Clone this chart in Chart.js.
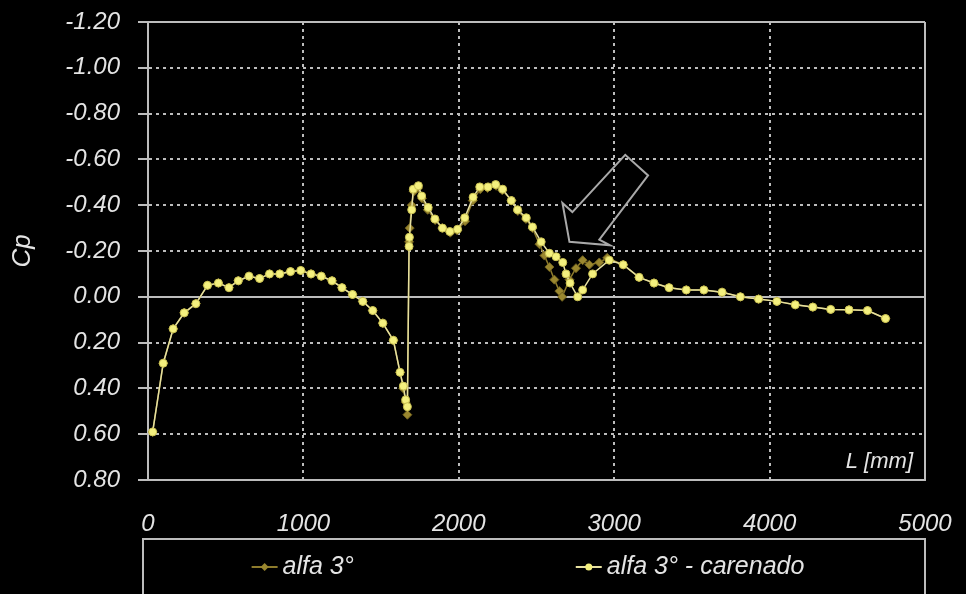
<!DOCTYPE html>
<html>
<head>
<meta charset="utf-8">
<script src="https://cdn.jsdelivr.net/npm/chart.js@4.4.1/dist/chart.umd.min.js"></script>
<style>
  html, body { margin: 0; padding: 0; background: #000; }
  #wrap { position: relative; width: 966px; height: 594px; }
</style>
</head>
<body>
<div id="wrap"><canvas id="cpChart"></canvas></div>
<script>
// --- data (L in mm, Cp) ---
const seriesNames = ['alfa 3°', 'alfa 3° - carenado'];

const L_alfa = [30, 98, 162, 233, 308, 383, 453, 521, 581, 650, 718, 782, 848, 917, 983,
  1049, 1115, 1184, 1248, 1316, 1382, 1446, 1511, 1579, 1622, 1643, 1658, 1669, 1680, 1684,
  1697, 1710, 1738, 1763, 1800, 1848, 1893, 1945, 1990, 2040, 2090, 2138, 2185, 2240, 2280,
  2340, 2380, 2432, 2474, 2519, 2551, 2583, 2615, 2647, 2665, 2712, 2754, 2797, 2840, 2904,
  2955, 3058, 3160, 3256, 3353, 3464, 3577, 3694, 3812, 3929, 4047, 4165, 4278, 4393, 4511,
  4630, 4746];
const Cp_alfa = [0.59, 0.29, 0.14, 0.07, 0.03, -0.05, -0.06, -0.04, -0.07, -0.09, -0.08, -0.10, -0.10, -0.11, -0.115,
  -0.10, -0.09, -0.07, -0.04, -0.01, 0.02, 0.06, 0.115, 0.19, 0.33, 0.40, 0.46, 0.515, -0.24, -0.30,
  -0.40, -0.46, -0.475, -0.43, -0.38, -0.335, -0.30, -0.28, -0.29, -0.33, -0.42, -0.47, -0.475, -0.485, -0.465,
  -0.42, -0.375, -0.34, -0.30, -0.23, -0.18, -0.13, -0.075, -0.025, 0.00, -0.075, -0.125, -0.16, -0.14, -0.15,
  -0.17, -0.14, -0.085, -0.06, -0.04, -0.03, -0.03, -0.02, 0.00, 0.01, 0.02, 0.035, 0.045, 0.055, 0.057,
  0.06, 0.095];

const L_car = [30, 98, 162, 233, 308, 383, 453, 521, 581, 650, 718, 782, 848, 917, 983,
  1049, 1115, 1184, 1248, 1316, 1382, 1446, 1511, 1579, 1622, 1643, 1658, 1669, 1680, 1682,
  1697, 1707, 1740, 1761, 1803, 1846, 1895, 1942, 1992, 2038, 2092, 2135, 2188, 2237, 2282,
  2338, 2378, 2434, 2474, 2530, 2583, 2626, 2669, 2690, 2716, 2765, 2797, 2861, 2968, 3058,
  3160, 3256, 3353, 3464, 3577, 3694, 3812, 3929, 4047, 4165, 4278, 4393, 4511, 4630, 4746];
const Cp_car = [0.59, 0.29, 0.14, 0.07, 0.03, -0.05, -0.06, -0.04, -0.07, -0.09, -0.08, -0.10, -0.10, -0.11, -0.115,
  -0.10, -0.09, -0.07, -0.04, -0.01, 0.02, 0.06, 0.115, 0.19, 0.33, 0.39, 0.45, 0.48, -0.22, -0.26,
  -0.38, -0.47, -0.485, -0.44, -0.39, -0.34, -0.30, -0.285, -0.295, -0.345, -0.435, -0.48, -0.48, -0.49, -0.47,
  -0.42, -0.38, -0.345, -0.305, -0.24, -0.19, -0.175, -0.15, -0.10, -0.06, 0.00, -0.03, -0.10, -0.16, -0.14,
  -0.085, -0.06, -0.04, -0.03, -0.03, -0.02, 0.00, 0.01, 0.02, 0.035, 0.045, 0.055, 0.057, 0.06, 0.095];

const xTicks = [0, 1000, 2000, 3000, 4000, 5000];
const yTicks = [-1.2, -1.0, -0.8, -0.6, -0.4, -0.2, 0, 0.2, 0.4, 0.6, 0.8];

// hollow arrow drawn on the plot, vertices in (L, Cp)
const arrowL  = [2712, 2667, 2731, 3071, 3218, 2904, 2974];
const arrowCp = [-0.24, -0.41, -0.37, -0.62, -0.53, -0.25, -0.225];

const FONT = '"Liberation Sans", Arial, sans-serif';
const TEXT = '#e4e4e4';
const GRID = '#bcbcbc';

Chart.defaults.font.family = FONT;
Chart.defaults.color = TEXT;

function toPoints(xs, ys) {
  return xs.map((x, i) => ({ x: x, y: ys[i] }));
}

function isEdge(c, list) {
  if (!c.tick) return true;
  const v = c.tick.value;
  return Math.abs(v) < 1e-9 || v === list[0] || v === list[list.length - 1];
}

// arrow annotation
const arrowPlugin = {
  id: 'arrow',
  afterDatasetsDraw(chart) {
    const { ctx, scales: { x, y } } = chart;
    ctx.save();
    ctx.beginPath();
    arrowL.forEach((l, i) => {
      const px = x.getPixelForValue(l), py = y.getPixelForValue(arrowCp[i]);
      if (i === 0) ctx.moveTo(px, py); else ctx.lineTo(px, py);
    });
    ctx.closePath();
    ctx.strokeStyle = '#a9a9a9';
    ctx.lineWidth = 2;
    ctx.stroke();
    ctx.restore();
  }
};

// "L [mm]" inside the plot, framed legend under the axis
const extrasPlugin = {
  id: 'extras',
  afterDraw(chart) {
    const { ctx, chartArea: a } = chart;
    ctx.save();
    ctx.font = 'italic 22px ' + FONT;
    ctx.fillStyle = TEXT;
    ctx.textAlign = 'right';
    ctx.textBaseline = 'middle';
    ctx.fillText('L [mm]', a.right - 12, a.bottom - 18);

    // legend box
    const boxL = a.left - 5, boxR = a.right, boxT = 539, itemY = 567;
    ctx.strokeStyle = GRID;
    ctx.lineWidth = 2;
    ctx.strokeRect(boxL, boxT, boxR - boxL, 80);

    ctx.font = 'italic 25px ' + FONT;
    ctx.textAlign = 'left';
    const markW = 26, gapText = 5, gapItems = 222;
    const widths = chart.data.datasets.map(d => markW + gapText + ctx.measureText(d.label).width);
    const total = widths.reduce((s, w) => s + w, 0) + gapItems * (widths.length - 1);
    let cx = (boxL + boxR) / 2 - total / 2 - 6;
    chart.data.datasets.forEach((d, i) => {
      ctx.strokeStyle = d.borderColor;
      ctx.lineWidth = 2;
      ctx.beginPath();
      ctx.moveTo(cx, itemY);
      ctx.lineTo(cx + markW, itemY);
      ctx.stroke();
      const mx = cx + markW / 2;
      ctx.fillStyle = d.pointBackgroundColor;
      ctx.beginPath();
      if (d.pointStyle === 'rectRot') {
        const r = 4;
        ctx.moveTo(mx, itemY - r); ctx.lineTo(mx + r, itemY);
        ctx.lineTo(mx, itemY + r); ctx.lineTo(mx - r, itemY);
        ctx.closePath();
      } else {
        ctx.arc(mx, itemY, 3.5, 0, Math.PI * 2);
      }
      ctx.fill();
      ctx.fillStyle = TEXT;
      ctx.fillText(d.label, cx + markW + gapText, itemY);
      cx += widths[i] + gapItems;
    });
    ctx.restore();
  }
};

const chart = new Chart(document.getElementById('cpChart').getContext('2d'), {
  type: 'line',
  data: {
    datasets: [
      {
        label: seriesNames[0],
        data: toPoints(L_alfa, Cp_alfa),
        borderColor: '#8d7b2c',
        borderWidth: 1.5,
        pointStyle: 'rectRot',
        pointRadius: 4.5,
        pointBackgroundColor: '#9a872f',
        pointBorderColor: '#6f601e',
        pointBorderWidth: 1,
        tension: 0,
        order: 1
      },
      {
        label: seriesNames[1],
        data: toPoints(L_car, Cp_car),
        borderColor: '#e6e0a0',
        borderWidth: 1.5,
        pointStyle: 'circle',
        pointRadius: 4,
        pointBackgroundColor: '#f4f07e',
        pointBorderColor: '#c9c052',
        pointBorderWidth: 1,
        tension: 0,
        order: 0
      }
    ]
  },
  options: {
    responsive: true,
    maintainAspectRatio: false,
    animation: false,
    layout: { padding: { top: 22, right: 41, left: 0, bottom: 0 } },
    plugins: {
      legend: { display: false },
      tooltip: { enabled: false }
    },
    scales: {
      x: {
        type: 'linear',
        min: 0,
        max: 5000,
        afterBuildTicks: s => { s.ticks = xTicks.map(v => ({ value: v })); },
        afterFit: s => { s.height = 114; s.paddingLeft = 0; s.paddingRight = 0; },
        ticks: {
          color: TEXT,
          font: { style: 'italic', size: 24 },
          padding: 30,
          maxRotation: 0,
          callback: v => String(v)
        },
        grid: {
          drawTicks: false,
          color: GRID,
          lineWidth: 2
        },
        border: {
          display: true,
          color: GRID,
          width: 2,
          dash: c => isEdge(c, xTicks) ? [] : [3, 4]
        }
      },
      y: {
        type: 'linear',
        reverse: true,
        min: -1.2,
        max: 0.8,
        afterBuildTicks: s => { s.ticks = yTicks.map(v => ({ value: v })); },
        afterFit: s => { s.width = 148; s.paddingTop = 0; s.paddingBottom = 0; },
        ticks: {
          color: TEXT,
          font: { style: 'italic', size: 24 },
          padding: 18,
          callback: v => (Math.abs(v) < 1e-9 ? 0 : v).toFixed(2)
        },
        grid: {
          color: GRID,
          lineWidth: 2,
          tickLength: 10,
          tickColor: GRID,
          tickWidth: 2
        },
        border: {
          display: true,
          color: GRID,
          width: 2,
          dash: c => isEdge(c, yTicks) ? [] : [3, 4]
        },
        title: {
          display: true,
          text: 'Cp',
          color: TEXT,
          font: { style: 'italic', size: 26 },
          padding: { top: 7, bottom: 0 }
        }
      }
    }
  },
  plugins: [arrowPlugin, extrasPlugin]
});
</script>
</body>
</html>
